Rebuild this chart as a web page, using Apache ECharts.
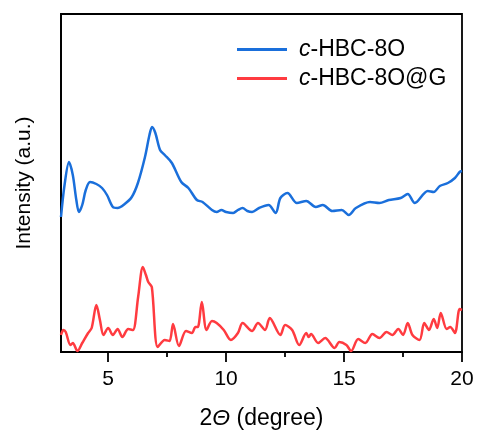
<!DOCTYPE html>
<html><head><meta charset="utf-8">
<script src="https://cdn.jsdelivr.net/npm/echarts@6/dist/echarts.min.js"></script>
<style>html,body{margin:0;padding:0;background:#fff}#c{width:478px;height:437px}</style>
</head><body><div id="c"></div>
<script>
const blueX = [3.0,3.15,3.34,3.5,3.65,3.76,3.9,4.05,4.23,4.5,4.74,4.95,5.2,5.4,5.7,6.0,6.26,6.56,6.75,6.86,7.0,7.2,7.4,7.7,8.1,8.4,8.76,9.0,9.4,9.6,9.8,10.0,10.3,10.5,10.7,10.9,11.1,11.4,11.8,12.1,12.3,12.6,13.0,13.4,13.8,14.1,14.5,14.9,15.2,15.5,16.1,16.5,16.9,17.4,17.7,18.0,18.55,18.8,19.06,19.4,19.7,19.9,20.0];
const blueY = [135,167,190,177,152,140,147,162,170,168,164,157,145,144,148,155,169,195,217,225,219,202,197,189,170,164,152,150,142,140,142,140,139,142,144,141,140,144,147,139,154,159,149,151,145,147,141,142,137,144,150,149,152,154,158,149,161,160,166,169,174,180,181];
const redX = [3.0,3.1,3.2,3.4,3.5,3.7,3.9,4.15,4.3,4.5,4.65,4.8,5.0,5.2,5.4,5.6,5.85,6.05,6.27,6.47,6.6,6.7,6.85,7.1,7.4,7.6,7.75,8.0,8.3,8.55,8.7,8.8,8.97,9.17,9.4,9.6,9.9,10.2,10.5,10.7,11.1,11.35,11.65,11.85,12.3,12.5,12.8,13.1,13.4,13.5,13.6,13.9,14.2,14.6,14.8,15.1,15.3,15.6,15.9,16.2,16.5,16.8,17.05,17.3,17.5,17.7,17.9,18.2,18.4,18.6,18.8,18.95,19.1,19.35,19.5,19.7,19.9,20.0];
const redY = [17,22,20,7,9,1,9,19,24,47,32,17,24,17,23,15,23,22,55,85,77,70,65,5,12,11,28,6,21,19,25,25,50,22,31,29,22,12,19,29,21,29,22,34,17,27,22,7,19,15,18,9,14,4,10,7,1,13,9,18,14,20,17,23,17,29,17,12,29,22,33,24,39,23,25,19,43,42];
const seriesNames = ['c-HBC-8O','c-HBC-8O@G'];
const majorTicks = [5,10,15,20];
const minorTicks = [7.5,12.5,17.5];

const FONT = 'Liberation Sans, Arial, sans-serif';
const chart = echarts.init(document.getElementById('c'), null, {renderer:'canvas'});
function zip(a,b){return a.map((v,i)=>[v,b[i]]);}
chart.setOption({
  animation:false,
  grid:{left:61,right:16,top:14,bottom:85,show:true,borderColor:'#000',borderWidth:1.8,backgroundColor:'transparent'},
  legend:{
    orient:'vertical',left:232,top:33,itemWidth:50,itemHeight:3,itemGap:6,icon:'rect',
    textStyle:{fontFamily:FONT,fontSize:23,color:'#000',rich:{i:{fontStyle:'italic',fontFamily:FONT,fontSize:23,color:'#000',padding:[0,0,0,7]},n:{fontFamily:FONT,fontSize:23,color:'#000'}}},
    formatter:function(n){return '{i|'+n.charAt(0)+'}{n|'+n.slice(1)+'}';},
    data:seriesNames
  },
  xAxis:[{
    type:'value',min:3,max:20,
    axisLine:{show:true,lineStyle:{color:'#000',width:1.8}},
    axisTick:{show:true,customValues:majorTicks,length:10,lineStyle:{color:'#000',width:1.8}},
    axisLabel:{customValues:majorTicks,color:'#000',fontFamily:FONT,fontSize:21,margin:17},
    splitLine:{show:false},
    name:'2{i|Θ} (degree)',nameLocation:'middle',nameGap:55,
    nameTextStyle:{color:'#000',fontFamily:FONT,fontSize:23,rich:{i:{fontStyle:'italic',fontFamily:FONT,fontSize:23,color:'#000'}}}
  },{
    type:'value',min:3,max:20,position:'bottom',
    axisLine:{show:false},
    axisTick:{show:true,customValues:minorTicks,length:5,lineStyle:{color:'#000',width:1.8}},
    axisLabel:{show:false},splitLine:{show:false}
  }],
  yAxis:{
    type:'value',min:0,max:338,
    axisLine:{show:true,lineStyle:{color:'#000',width:1.8}},
    axisTick:{show:false},axisLabel:{show:false},splitLine:{show:false},
    name:'Intensity (a.u.)',nameLocation:'middle',nameGap:26,
    nameTextStyle:{color:'#000',fontFamily:FONT,fontSize:21}
  },
  series:[
    {name:seriesNames[0],type:'line',xAxisIndex:0,data:zip(blueX,blueY),smooth:0.3,showSymbol:false,symbol:'none',lineStyle:{color:'#1a6fdb',width:2.5},itemStyle:{color:'#1a6fdb'}},
    {name:seriesNames[1],type:'line',xAxisIndex:0,data:zip(redX,redY),smooth:0.3,showSymbol:false,symbol:'none',lineStyle:{color:'#ff3b40',width:2.5},itemStyle:{color:'#ff3b40'}}
  ]
});
</script></body></html>
